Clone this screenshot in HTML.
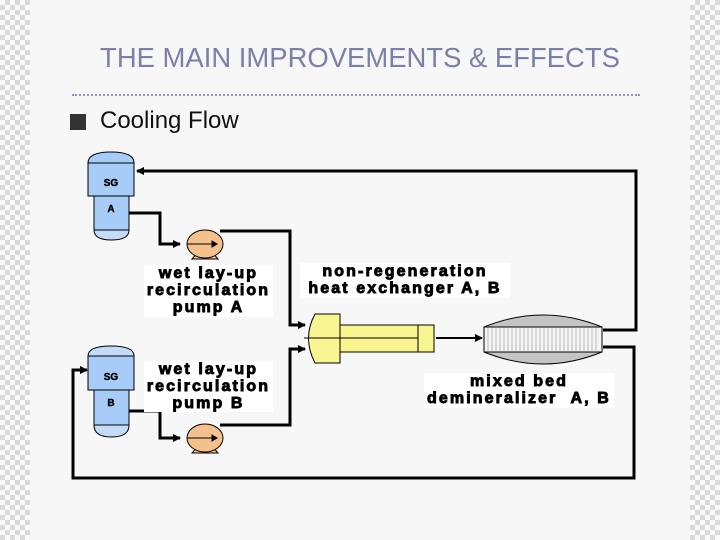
<!DOCTYPE html>
<html><head><style>
body{margin:0;width:720px;height:540px;overflow:hidden;background:#f7f7f7;font-family:"Liberation Sans",sans-serif;position:relative}
.chk{position:absolute;top:0;width:30px;height:540px;background-color:#fafafa;background-image:linear-gradient(45deg,#dadada 25%,transparent 25%,transparent 75%,#dadada 75%),linear-gradient(45deg,#dadada 25%,transparent 25%,transparent 75%,#dadada 75%);background-size:10px 10px;background-position:0 0,5px 5px}
.t{position:absolute;left:0;width:720px;text-align:center;top:42px;font-size:28px;color:#7a80a8;transform:scaleX(0.98)}
.lbl{position:absolute;background:#fff;font-weight:bold;font-size:16px;letter-spacing:2.1px;text-align:center;line-height:17px;color:#000;-webkit-text-stroke:0.9px #000;white-space:nowrap}
</style></head><body>
<div class="chk" style="left:0"></div>
<div class="chk" style="left:690px"></div>
<div class="t">THE MAIN IMPROVEMENTS &amp; EFFECTS</div>
<div style="position:absolute;left:72px;top:94px;width:568px;border-top:2px dotted #9096b8"></div>
<div style="position:absolute;left:70px;top:114px;width:16px;height:16px;background:#333"></div>
<div style="position:absolute;left:100px;top:107px;font-size:24px;color:#111">Cooling Flow</div>
<svg width="720" height="540" style="position:absolute;left:0;top:0">
<defs><marker id="a" markerWidth="8" markerHeight="8" refX="7" refY="4" orient="auto" markerUnits="userSpaceOnUse"><path d="M0,0 L8,4 L0,8z" fill="#000"/></marker></defs>
<g stroke="#000" stroke-width="1">
<path d="M88,163 Q88,152 111,152 Q134,152 134,163 Z" fill="#a8ccf8"/>
<rect x="88" y="163" width="46" height="33" fill="#a8ccf8"/>
<rect x="94" y="196" width="35" height="34" fill="#a8ccf8"/>
<path d="M94,230 L129,230 Q129,240 111.5,240 Q94,240 94,230 Z" fill="#c4dcf8"/>
<path d="M88,356 Q88,346 111,346 Q134,346 134,356 Z" fill="#c4dcf8"/>
<rect x="88" y="356" width="46" height="34" fill="#a8ccf8"/>
<rect x="94" y="390" width="35" height="35" fill="#a8ccf8"/>
<path d="M94,425 L129,425 Q129,437 111.5,437 Q94,437 94,425 Z" fill="#c4dcf8"/>
</g>
<g font-family="Liberation Sans" font-weight="bold" font-size="10" fill="#000" stroke="#000" stroke-width="0.4" text-anchor="middle">
<text x="111" y="186">SG</text><text x="111" y="212">A</text>
<text x="111" y="380">SG</text><text x="111" y="406">B</text>
</g>
<g stroke="#000" stroke-width="1" fill="#f4c08c">
<path d="M192,259 L218,259 L212,252 L198,252Z"/>
<ellipse cx="205" cy="244" rx="18" ry="14"/>
<path d="M192,453 L218,453 L212,446 L198,446Z"/>
<ellipse cx="205" cy="438" rx="18" ry="14"/>
</g>
<g fill="none" stroke="#000" stroke-width="3">
<path d="M129,213 H160 V244 H180" marker-end="url(#a)"/>
<path d="M129,411 H160 V438 H180" marker-end="url(#a)"/>
<path d="M220,231 H290 V325 H305" marker-end="url(#a)"/>
<path d="M220,425 H290 V349 H305" marker-end="url(#a)"/>
<path d="M603,330 H636 V171 H137" marker-end="url(#a)"/>
<path d="M603,347 H634 V478 H73 V370 H87" marker-end="url(#a)"/>
<path d="M436,338 H482" stroke-width="2" marker-end="url(#a)"/>
</g>
<g stroke="#000" stroke-width="1">
<line x1="187" y1="244" x2="212" y2="244"/><path d="M212,241 L217,244 L212,247z" fill="#000"/>
<line x1="187" y1="438" x2="212" y2="438"/><path d="M212,435 L217,438 L212,441z" fill="#000"/>
<path d="M315,314 H340 V363 H315 Q302,338 315,314Z" fill="#f8f490"/>
<line x1="304" y1="338" x2="340" y2="338"/>
<rect x="340" y="325" width="94" height="27" fill="#f8f490"/>
<line x1="340" y1="338" x2="418" y2="338"/>
<line x1="418" y1="325" x2="418" y2="352"/>
<path d="M484,327 Q543,303 602,327 L602,352 Q543,376 484,352Z" fill="#c4c4c4"/>
<rect x="484" y="327" width="118" height="25" fill="#f4f4f4"/>
</g>
<g stroke="#bbb" stroke-width="1">
<path d="M488,328V351M492,328V351M496,328V351M500,328V351M504,328V351M508,328V351M512,328V351M516,328V351M520,328V351M524,328V351M528,328V351M532,328V351M536,328V351M540,328V351M544,328V351M548,328V351M552,328V351M556,328V351M560,328V351M564,328V351M568,328V351M572,328V351M576,328V351M580,328V351M584,328V351M588,328V351M592,328V351M596,328V351"/>
</g>
</svg>
<div class="lbl" style="left:144px;top:265px;width:129px;height:52px">wet lay-up<br>recirculation<br>pump A</div>
<div class="lbl" style="left:144px;top:361px;width:129px;height:51px">wet lay-up<br>recirculation<br>pump B</div>
<div class="lbl" style="left:300px;top:263px;width:210px;height:35px">non-regeneration<br>heat exchanger A, B</div>
<div class="lbl" style="left:424px;top:373px;width:190px;height:35px">mixed bed<br>demineralizer &nbsp;A, B</div>
</body></html>
